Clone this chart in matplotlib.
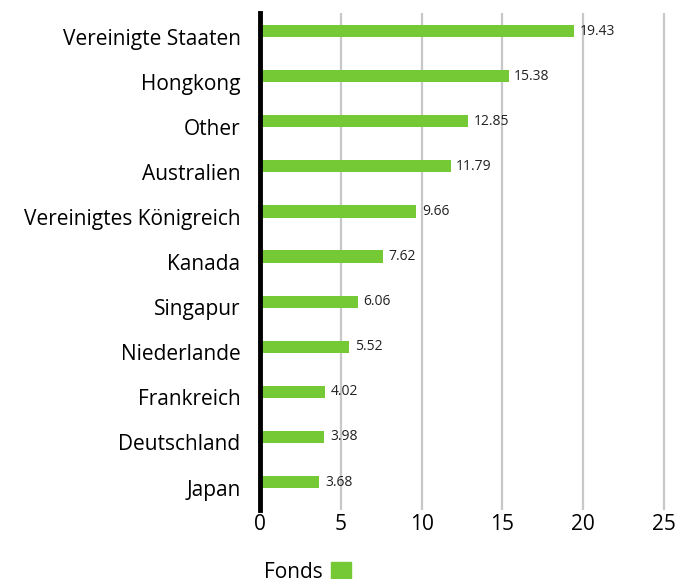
import matplotlib.pyplot as plt
from matplotlib.patches import Patch
from matplotlib.transforms import ScaledTranslation

countries = ["Vereinigte Staaten", "Hongkong", "Other", "Australien",
             "Vereinigtes Königreich", "Kanada", "Singapur", "Niederlande",
             "Frankreich", "Deutschland", "Japan"]
values = [19.43, 15.38, 12.85, 11.79, 9.66, 7.62, 6.06, 5.52, 4.02, 3.98, 3.68]
xticks = [0, 5, 10, 15, 20, 25]

green = "#74c934"
plt.rcParams['font.family'] = ['Open Sans', 'DejaVu Sans']

fig = plt.figure(figsize=(6.78, 5.79), dpi=100)
ax = fig.add_axes([0.3835, 0.1192, 0.603, 0.8583])

pos = list(range(len(countries)))
ax.barh(pos, values, height=0.27, color=green, zorder=3)
for p, v in zip(pos, values):
    ax.text(v + 0.35, p, f"{v:.2f}", va='center', ha='left', fontsize=10, color='#222222')

ax.set_ylim(10.62, -0.4)
ax.set_xlim(0, 25.3)
ax.set_yticks(pos)
ax.set_yticklabels(countries, fontsize=15)
ax.set_xticks(xticks)
ax.set_xticklabels([str(t) for t in xticks], fontsize=15)
ax.tick_params(axis='both', length=0)
ax.tick_params(axis='y', pad=14)
ax.tick_params(axis='x', pad=3)

# labels sit a little below the bar centres in the original
shift = ScaledTranslation(0, -4 / 72, fig.dpi_scale_trans)
for lbl in ax.get_yticklabels():
    lbl.set_transform(lbl.get_transform() + shift)

ax.grid(axis='x', color='#c8c8c8', linewidth=1.6, zorder=0)
for s in ['top', 'right', 'bottom']:
    ax.spines[s].set_visible(False)
ax.spines['left'].set_linewidth(3.5)
ax.spines['left'].set_color('black')
ax.spines['left'].set_zorder(4)

fig.legend(handles=[Patch(color=green, label="Fonds")], loc='upper left',
           bbox_to_anchor=(0.361, 0.062), frameon=False, fontsize=15,
           markerfirst=False, handlelength=1.0, handleheight=1.0, handletextpad=0.4)

fig.savefig("out.png", dpi=100)
